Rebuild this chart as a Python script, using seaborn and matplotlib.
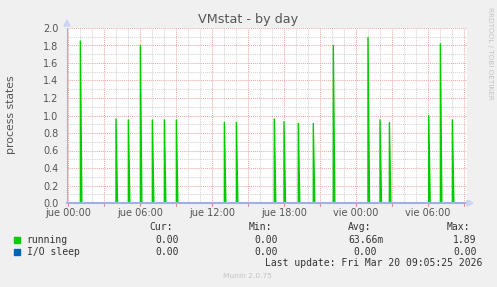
import numpy as np
import pandas as pd
import matplotlib
matplotlib.use("Agg")
import matplotlib.pyplot as plt
from matplotlib.patches import Rectangle, Polygon
import seaborn as sns

# ---------------- data ----------------
title = "VMstat - by day"
y_label = "process states"
# spike times in hours after "jue 00:00" and their peak values (running)
spike_hours = [1.03, 4.0, 5.03, 6.03, 7.03, 8.03, 9.03, 13.03, 14.03,
               17.19, 18.0, 19.19, 20.44, 22.11, 25.0, 26.0, 26.78,
               30.06, 31.03, 32.03]
spike_values = [1.85, 0.96, 0.95, 1.80, 0.95, 0.95, 0.95, 0.92, 0.92,
                0.96, 0.93, 0.91, 0.91, 1.80, 1.89, 0.95, 0.92,
                1.00, 1.82, 0.95]
x_start, x_end = -0.083, 33.25
tick_hours = [0, 6, 12, 18, 24, 30]
tick_labels = ["jue 00:00", "jue 06:00", "jue 12:00", "jue 18:00", "vie 00:00", "vie 06:00"]
y_ticks = [0.0, 0.2, 0.4, 0.6, 0.8, 1.0, 1.2, 1.4, 1.6, 1.8, 2.0]
series_names = ["running", "I/O sleep"]
series_colors = ["#00cc00", "#0066b3"]
cur_vals = ["0.00", "0.00"]
min_vals = ["0.00", "0.00"]
avg_vals = ["63.66m", "0.00"]
max_vals = ["1.89", "0.00"]
last_update = "Last update: Fri Mar 20 09:05:25 2026"
footer = "Munin 2.0.75"
side_text = "RRDTOOL / TOBI OETIKER"

# build line from spikes: baseline 0, vertical rise, quick fall
xs, ys = [x_start], [0.0]
for h, v in zip(spike_hours, spike_values):
    xs += [h, h, h + 1.5 / 12]
    ys += [0.0, v, 0.0]
xs.append(x_end); ys.append(0.0)
run_df = pd.DataFrame({"hour": xs, "value": ys})
io_df = pd.DataFrame({"hour": [x_start, x_end], "value": [0.0, 0.0]})

# ---------------- figure ----------------
sns.set_style("white")
plt.rcParams['font.family'] = ['DejaVu Sans']
W, H = 497, 287
fig = plt.figure(figsize=(W / 100, H / 100), dpi=100, facecolor="#f0f0f0")

def fx(px): return px / W
def fy(py): return 1 - py / H

left, right, top, bottom = 67, 467, 27.5, 203
ax = fig.add_axes([fx(left), fy(bottom), (right - left) / W, (bottom - top) / H])
ax.set_facecolor("white")
ax.set_xlim(x_start, x_end)
ax.set_ylim(0, 2.0 * (bottom - top) / (bottom - 28))

txt = "#555555"
major_c = "#eeaaaa"
minor_c = "#d4d4d4"
dot = (0, (1, 1))

ax.set_xticks(tick_hours)
ax.set_xticklabels(tick_labels)
ax.set_yticks(y_ticks)
ax.set_yticklabels([f"{v:.1f}" for v in y_ticks])

# grid: gray minor every hour / 0.1, red major every 3 hours / 0.2
for h in range(0, 34):
    ax.axvline(h, color=major_c if h % 3 == 0 else minor_c, lw=0.75, ls=dot, zorder=1)
for v in np.arange(0.1, 2.01, 0.1):
    ax.axhline(v, color=major_c if round(v * 10) % 2 == 0 else minor_c, lw=0.75, ls=dot, zorder=1)

ax.tick_params(axis="x", which="major", length=0, pad=3.5, labelsize=7, labelcolor=txt)
ax.tick_params(axis="y", which="major", length=0, pad=6, labelsize=7, labelcolor=txt)
for s in ax.spines.values():
    s.set_visible(False)
# red tick marks below the axis at every 3 hours
for h in range(0, 34, 3):
    ax.plot([h, h], [0, -0.035], color="#ee8888", lw=0.8, clip_on=False, zorder=2)

sns.lineplot(data=io_df, x="hour", y="value", ax=ax, color=series_colors[1], lw=1,
             sort=False, estimator=None, zorder=3)
sns.lineplot(data=run_df, x="hour", y="value", ax=ax, color=series_colors[0], lw=1.0,
             sort=False, estimator=None, zorder=4)
ax.set_xlabel("")
ax.set_ylabel("")

# axis lines (drawn over the zero baseline) with arrows
axis_c = "#a0b0e4"
ax.axhline(0, color=axis_c, lw=1.5, zorder=6, clip_on=False)
ax.axvline(x_start, color=axis_c, lw=0.8, zorder=6, clip_on=False)
fig.add_artist(Polygon([[fx(64), fy(26)], [fx(70), fy(26)], [fx(67), fy(20)]], closed=True,
                       color="#ccd4f4", transform=fig.transFigure))
fig.add_artist(Polygon([[fx(467), fy(200)], [fx(467), fy(206)], [fx(473), fy(203)]], closed=True,
                       color="#ccd4f4", transform=fig.transFigure))

# texts
fig.text(fx(248.5), fy(19), title, ha="center", va="center", fontsize=9.2, color=txt)
fig.text(fx(11), fy(115), y_label, ha="center", va="center", rotation=90, fontsize=7.8, color=txt)
fig.text(fx(490), fy(53), side_text, ha="center", va="center", rotation=270, fontsize=5.2, color="#c4c4c4")

mono = "DejaVu Sans Mono"
fs = 7
hdr_y = 227.3
for lbl, xr in zip(["Cur:", "Min:", "Avg:", "Max:"], [173, 272, 371, 470]):
    fig.text(fx(xr), fy(hdr_y), lbl, ha="right", va="center", fontsize=fs, family=mono, color="#333333")
row_y = [240, 251.7]
for i, name in enumerate(series_names):
    fig.add_artist(Rectangle((fx(14), fy(row_y[i] + 3)), 6 / W, 6 / H, color=series_colors[i],
                             transform=fig.transFigure))
    fig.text(fx(26.7), fy(row_y[i]), name, ha="left", va="center", fontsize=fs, family=mono, color="#333333")
    fig.text(fx(179), fy(row_y[i]), cur_vals[i], ha="right", va="center", fontsize=fs, family=mono, color="#333333")
    fig.text(fx(278), fy(row_y[i]), min_vals[i], ha="right", va="center", fontsize=fs, family=mono, color="#333333")
    avg_r = 383.3 if avg_vals[i].endswith("m") else 377.3
    fig.text(fx(avg_r), fy(row_y[i]), avg_vals[i], ha="right", va="center", fontsize=fs, family=mono, color="#333333")
    fig.text(fx(476.7), fy(row_y[i]), max_vals[i], ha="right", va="center", fontsize=fs, family=mono, color="#333333")
fig.text(fx(482.3), fy(263.3), last_update, ha="right", va="center", fontsize=fs, family=mono, color="#333333")
fig.text(fx(247.7), fy(276), footer, ha="center", va="center", fontsize=5.4, color="#c4c4c4")

fig.savefig("out.png", dpi=100, facecolor=fig.get_facecolor())
